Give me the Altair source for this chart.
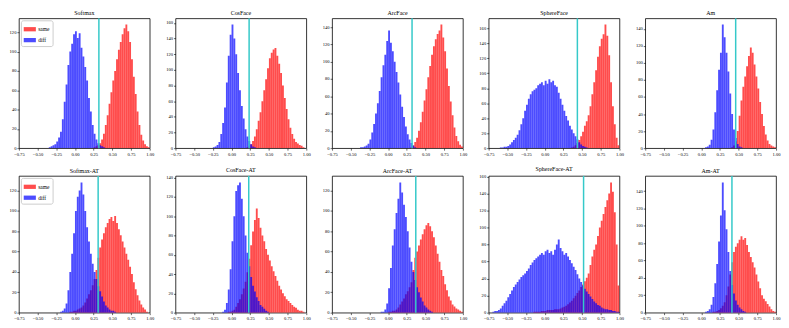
import altair as alt
import pandas as pd

BIN_W = 0.025
X_TICKS = [-0.75, -0.5, -0.25, 0.0, 0.25, 0.5, 0.75, 1.0]
PANELS = ["Softmax", "CosFace", "ArcFace", "SphereFace", "Am",
          "Softmax-AT", "CosFace-AT", "ArcFace-AT", "SphereFace-AT", "Am-AT"]
THRESHOLDS = [0.32, 0.235, 0.32, 0.437, 0.46, 0.31, 0.23, 0.37, 0.52, 0.41]

# ---- histogram counts (bin width 0.025), first bin start given separately ----
SOFTMAX_SAME_START = 0.25
SOFTMAX_SAME = [1, 2, 3, 5, 9, 15, 24, 34, 46, 58, 70, 80, 92, 102, 110, 118, 124, 128,
                121, 110, 92, 74, 56, 38, 24, 14, 8, 4, 2, 1]
SOFTMAX_DIFF_START = -0.35
SOFTMAX_DIFF = [1, 2, 3, 4, 7, 11, 17, 30, 48, 66, 86, 100, 108, 118, 121, 114, 119, 104,
                95, 84, 70, 52, 38, 24, 15, 9, 5, 3, 2, 1]

COSFACE_SAME_START = 0.20
COSFACE_SAME = [1, 2, 5, 9, 15, 24, 35, 46, 60, 74, 88, 102, 115, 122, 126, 128, 118, 108,
                96, 80, 64, 50, 37, 26, 18, 12, 8, 6, 4, 3, 1]
COSFACE_DIFF_START = -0.25
COSFACE_DIFF = [1, 2, 4, 8, 18, 32, 52, 84, 118, 145, 158, 140, 120, 96, 74, 54, 38, 24,
                15, 9, 5, 2, 1]

ARCFACE_SAME_START = 0.30
ARCFACE_SAME = [1, 3, 7, 12, 20, 30, 42, 55, 68, 82, 95, 108, 118, 126, 132, 136, 143, 128,
                112, 92, 72, 54, 38, 24, 14, 8, 4, 2]
ARCFACE_DIFF_START = -0.375
ARCFACE_DIFF = [1, 1, 2, 3, 5, 10, 18, 28, 40, 52, 66, 82, 96, 108, 124, 136, 122, 112,
                100, 88, 76, 62, 48, 36, 25, 16, 10, 6, 3, 1]

SPHEREFACE_SAME_START = 0.35
SPHEREFACE_SAME = [1, 2, 4, 7, 11, 16, 22, 30, 36, 44, 56, 72, 88, 104, 122, 136, 146, 152,
                   165, 150, 124, 88, 56, 32, 14, 4]
SPHEREFACE_DIFF_START = -0.60
SPHEREFACE_DIFF = [1, 1, 2, 2, 3, 5, 8, 11, 14, 18, 24, 32, 40, 50, 58, 66, 72, 76, 78, 80,
                   84, 86, 88, 84, 90, 86, 92, 88, 90, 84, 82, 74, 66, 58, 50, 43, 37, 30,
                   25, 20, 16, 12, 8, 5, 3, 2, 1]

AM_SAME_START = 0.40
AM_SAME = [1, 3, 8, 20, 38, 56, 72, 84, 96, 108, 118, 112, 98, 84, 70, 54, 40, 26, 16, 9,
           5, 3, 2, 1]
AM_DIFF_START = 0.05
AM_DIFF = [1, 2, 4, 10, 22, 42, 68, 92, 112, 145, 130, 112, 90, 64, 40, 22, 12, 5, 2, 1]

SOFTMAX_AT_SAME_START = -0.075
SOFTMAX_AT_SAME = [1, 1, 2, 2, 3, 4, 5, 7, 10, 14, 18, 22, 27, 33, 42, 54, 64, 72, 78, 84,
                   88, 92, 94, 90, 95, 88, 82, 76, 70, 64, 58, 52, 45, 38, 30, 23, 17, 12,
                   8, 5, 3, 1]
SOFTMAX_AT_DIFF_START = -0.20
SOFTMAX_AT_DIFF = [1, 2, 4, 9, 22, 40, 58, 78, 100, 114, 120, 128, 116, 100, 84, 70, 58,
                   48, 40, 33, 26, 21, 16, 11, 7, 5, 3, 2, 2, 1]

COSFACE_AT_SAME_START = -0.05
COSFACE_AT_SAME = [1, 1, 2, 3, 6, 10, 14, 19, 25, 32, 42, 56, 70, 84, 96, 108, 98, 88, 80,
                   74, 66, 60, 54, 48, 43, 38, 33, 28, 24, 20, 17, 14, 12, 10, 8, 6, 5, 3,
                   2, 2, 1]
COSFACE_AT_DIFF_START = -0.125
COSFACE_AT_DIFF = [1, 3, 10, 24, 45, 74, 100, 126, 132, 135, 118, 100, 80, 62, 48, 37, 28,
                   22, 16, 12, 8, 6, 4, 2, 1]

ARCFACE_AT_SAME_START = 0.0
ARCFACE_AT_SAME = [1, 1, 2, 2, 3, 5, 8, 11, 14, 18, 21, 25, 30, 42, 54, 60, 66, 72, 77, 82,
                   86, 88, 85, 80, 74, 66, 58, 50, 42, 36, 28, 22, 16, 12, 8, 6, 4, 3, 2, 1]
ARCFACE_AT_DIFF_START = -0.10
ARCFACE_AT_DIFF = [1, 1, 3, 9, 24, 44, 66, 82, 98, 112, 128, 118, 106, 94, 80, 64, 50, 40,
                   32, 25, 20, 15, 11, 7, 5, 3, 2, 1]

SPHEREFACE_AT_SAME_START = -0.15
SPHEREFACE_AT_SAME = [1, 1, 1, 1, 2, 2, 2, 3, 3, 3, 3, 4, 4, 4, 5, 6, 7, 8, 10, 12, 14, 17,
                      20, 23, 26, 30, 33, 37, 41, 46, 56, 66, 74, 80, 90, 100, 108, 116, 124,
                      132, 140, 153, 142, 118, 80, 32]
SPHEREFACE_AT_DIFF_START = -0.70
SPHEREFACE_AT_DIFF = [1, 2, 2, 3, 5, 8, 11, 14, 18, 22, 26, 30, 33, 36, 39, 42, 44, 46, 49,
                      52, 56, 59, 62, 64, 66, 68, 70, 68, 72, 74, 70, 72, 68, 74, 80, 86, 76,
                      72, 68, 70, 66, 62, 58, 54, 50, 45, 40, 36, 32, 28, 25, 22, 19, 16, 13,
                      11, 9, 8, 6, 5, 4, 4, 3, 3, 2, 2, 1, 1]

AM_AT_SAME_START = 0.15
AM_AT_SAME = [1, 1, 2, 3, 5, 8, 12, 20, 30, 44, 58, 70, 76, 80, 84, 88, 84, 86, 78, 70, 64,
              58, 52, 44, 36, 28, 20, 16, 13, 10, 7, 4, 2, 1]
AM_AT_DIFF_START = 0.05
AM_AT_DIFF = [1, 2, 4, 9, 18, 34, 56, 82, 112, 150, 118, 96, 70, 48, 32, 22, 14, 9, 6, 4, 2, 1]

SERIES = {
    "Softmax": (SOFTMAX_SAME_START, SOFTMAX_SAME, SOFTMAX_DIFF_START, SOFTMAX_DIFF),
    "CosFace": (COSFACE_SAME_START, COSFACE_SAME, COSFACE_DIFF_START, COSFACE_DIFF),
    "ArcFace": (ARCFACE_SAME_START, ARCFACE_SAME, ARCFACE_DIFF_START, ARCFACE_DIFF),
    "SphereFace": (SPHEREFACE_SAME_START, SPHEREFACE_SAME, SPHEREFACE_DIFF_START, SPHEREFACE_DIFF),
    "Am": (AM_SAME_START, AM_SAME, AM_DIFF_START, AM_DIFF),
    "Softmax-AT": (SOFTMAX_AT_SAME_START, SOFTMAX_AT_SAME, SOFTMAX_AT_DIFF_START, SOFTMAX_AT_DIFF),
    "CosFace-AT": (COSFACE_AT_SAME_START, COSFACE_AT_SAME, COSFACE_AT_DIFF_START, COSFACE_AT_DIFF),
    "ArcFace-AT": (ARCFACE_AT_SAME_START, ARCFACE_AT_SAME, ARCFACE_AT_DIFF_START, ARCFACE_AT_DIFF),
    "SphereFace-AT": (SPHEREFACE_AT_SAME_START, SPHEREFACE_AT_SAME, SPHEREFACE_AT_DIFF_START, SPHEREFACE_AT_DIFF),
    "Am-AT": (AM_AT_SAME_START, AM_AT_SAME, AM_AT_DIFF_START, AM_AT_DIFF),
}

FONT = "Liberation Serif"


def x_enc(field):
    return alt.X(field, type="quantitative",
                 scale=alt.Scale(domain=[-0.75, 1.0], nice=False, zero=False),
                 axis=alt.Axis(values=X_TICKS, format=".2f", title=None, labelFlush=False))


def make_panel(idx, name):
    ss, same, ds, diff = SERIES[name]
    rows = []
    for k, c in enumerate(same):
        x0 = round(ss + k * BIN_W, 4)
        rows.append({"x0": x0, "x1": round(x0 + BIN_W, 4), "count": c, "base": 0, "series": "same"})
    for k, c in enumerate(diff):
        x0 = round(ds + k * BIN_W, 4)
        rows.append({"x0": x0, "x1": round(x0 + BIN_W, 4), "count": c, "base": 0, "series": "diff"})
    df = pd.DataFrame(rows)
    ymax = max(max(same), max(diff)) * 1.05
    yticks = list(range(0, int(ymax) + 1, 20))
    if name.startswith("Softmax"):
        legend = alt.Legend(title=None, orient="top-left", offset=2, padding=2.5,
                            strokeColor="#cccccc", fillColor="white", cornerRadius=2,
                            labelFont=FONT, labelFontSize=5.5, labelColor="black",
                            symbolType="M-1,-0.35L1,-0.35L1,0.35L-1,0.35Z", symbolSize=150,
                            symbolOpacity=0.7, symbolStrokeWidth=0, rowPadding=1,
                            labelOffset=2)
    else:
        legend = None
    bars = alt.Chart(df).mark_rect(opacity=0.7, clip=True, strokeWidth=0).encode(
        x=x_enc("x0"),
        x2="x1:Q",
        y=alt.Y("count:Q", scale=alt.Scale(domain=[0, ymax], nice=False),
                axis=alt.Axis(values=yticks, title=None)),
        y2="base:Q",
        color=alt.Color("series:N",
                        scale=alt.Scale(domain=["same", "diff"], range=["#ff0000", "#0000ff"]),
                        legend=legend),
    )
    rule = alt.Chart(pd.DataFrame({"t": [THRESHOLDS[idx]]})).mark_rule(
        color="#35c9c9", strokeWidth=1.5).encode(x=x_enc("t"))
    h = 131 if idx < 5 else 138
    return alt.layer(bars, rule).properties(width=132, height=h, title=name)


panels = [make_panel(i, n) for i, n in enumerate(PANELS)]

chart = alt.concat(*panels, columns=5, spacing={"row": 28, "column": 26}, bounds="flush").resolve_scale(
    color="independent", x="independent", y="independent"
).resolve_legend(color="independent").properties(
    padding={"left": 0, "top": 0, "right": 0, "bottom": 0}
).configure_view(stroke="black", strokeWidth=0.8).configure_axis(
    labelFont=FONT, labelFontSize=4.6, labelColor="black", tickSize=2, tickWidth=0.6,
    tickColor="black", labelPadding=1, domain=False, grid=False
).configure_title(font=FONT, fontSize=6, fontWeight="normal", offset=1.5, color="black")

chart.save("out.html", embed_options={"renderer": "svg", "actions": False})
